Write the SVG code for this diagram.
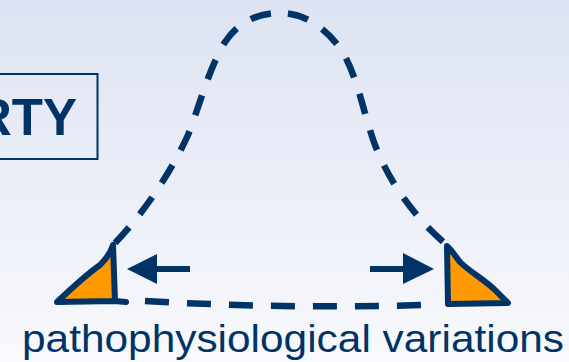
<svg xmlns="http://www.w3.org/2000/svg" width="569" height="362" viewBox="0 0 569 362">
<defs>
<linearGradient id="bg" x1="0" y1="0" x2="0" y2="1">
<stop offset="0" stop-color="#dde3f2"/>
<stop offset="1" stop-color="#f8f9fc"/>
</linearGradient>
</defs>
<style>
.dash{fill:none;stroke:#003366;stroke-width:6.5;stroke-dasharray:21 17;}
.tri{fill:#ff9900;stroke:#003366;stroke-width:6;stroke-linejoin:round;}
.arr{fill:#003366;}
.lbl{font-family:"Liberation Sans",Arial,sans-serif;fill:#003366;}
</style>
<rect width="569" height="362" fill="url(#bg)"/>
<g id="title-box">
<rect x="-10" y="74" width="107.5" height="85" fill="none" stroke="#003366" stroke-width="2"/>
<text class="lbl" x="77" y="135" text-anchor="end" font-size="51" font-weight="bold">RTY</text>
</g>
<g id="connectors">
<path class="dash" d="M115,243 C145,212 172,170 188,135 C200,105 208,70 225,42 C240,20 260,13 280,13 C305,13 325,28 340,48 C355,70 362,105 370,130 C380,165 405,210 448,246"/>
<path class="dash" style="stroke-dasharray:24 18" d="M145,301 Q285,309 424,305"/>
</g>
<g id="left-tail">
<path class="tri" d="M57,302 C75,285 90,272 100,265 C107,258 111,252 113,245 L115,301 L126,302 L115,301 Z"/>
</g>
<g id="right-tail">
<path class="tri" d="M447,246 C452,250 455,256 460,262 C470,272 485,280 495,290 L508,303 L448,304 Z"/>
</g>
<g id="left-arrow">
<rect class="arr" x="155" y="266" width="35" height="6"/>
<polygon class="arr" points="127,269 157,254 157,284"/>
</g>
<g id="right-arrow">
<rect class="arr" x="370" y="266" width="35" height="6"/>
<polygon class="arr" points="434,269 403,253 403,284"/>
</g>
<g id="caption">
<text class="lbl" x="22" y="352" font-size="38" textLength="542" lengthAdjust="spacingAndGlyphs">pathophysiological variations</text>
</g>
</svg>
